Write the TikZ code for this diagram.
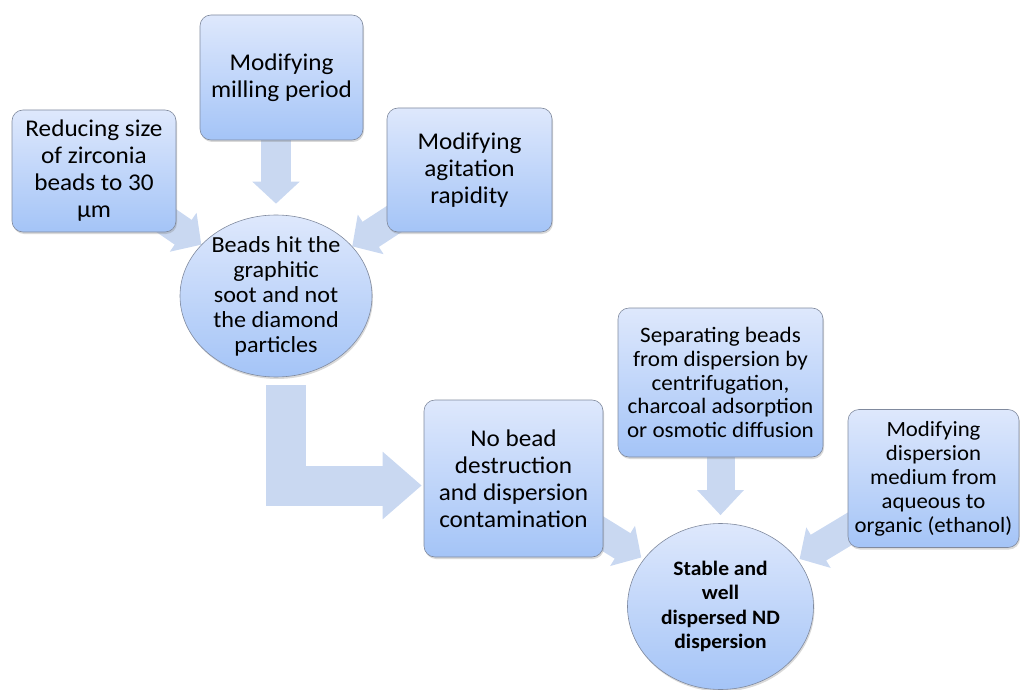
\documentclass[tikz,border=0pt]{standalone}
\usepackage{fontspec}
\setmainfont{Carlito}[FakeStretch=1.05]
\usepackage{tikz}
\usetikzlibrary{backgrounds}
\usetikzlibrary{shapes,shapes.geometric,arrows,arrows.meta}
\usetikzlibrary{shadows}
\usetikzlibrary{positioning}
\definecolor{boxtop}{RGB}{222,232,252}
\definecolor{boxbottom}{RGB}{164,196,247}
\definecolor{boxborder}{RGB}{128,138,158}
\definecolor{arrowfill}{RGB}{201,216,241}
\newcommand{\bigtxt}{\fontsize{24}{27}\selectfont}
\newcommand{\midtxt}{\fontsize{23}{25}\selectfont}
\newcommand{\smalltxt}{\fontsize{22}{23.7}\selectfont}
\tikzstyle{block} = [rectangle, draw=boxborder, line width=0.6pt,
    top color=boxtop, bottom color=boxbottom, rounded corners=11pt,
    align=center, inner sep=1pt, font=\bigtxt,
    drop shadow={shadow xshift=1pt,shadow yshift=-2pt,opacity=0.3}]
\tikzstyle{cloud} = [ellipse, draw=boxborder, line width=0.6pt,
    top color=boxtop, bottom color=boxbottom, align=center, inner sep=-12pt,
    drop shadow={shadow xshift=1pt,shadow yshift=-2pt,opacity=0.3}]
\tikzstyle{bigarrow} = [draw=arrowfill, line width=30pt, -{Triangle[width=46pt,length=22pt]}]

\begin{document}
\begin{tikzpicture}[x=1pt,y=-1pt]
\useasboundingbox (0,0) rectangle (1020,690);

% upper part
\node [block, minimum width=164pt, minimum height=122pt] (reduce) at (94,171) {Reducing size\\ of zirconia\\ beads to 30\\ µm};
\node [block, minimum width=163pt, minimum height=125pt] (milling) at (281.5,77.5) {Modifying\\ milling period};
\node [block, minimum width=165pt, minimum height=124pt] (agitate) at (469.5,170) {Modifying\\ agitation\\ rapidity};
\node [cloud, minimum width=192pt, minimum height=162pt, font=\midtxt] (beads) at (276,296) {Beads hit the\\ graphitic\\ soot and not\\ the diamond\\ particles};

% lower part
\node [block, minimum width=179pt, minimum height=157pt] (nobead) at (513.5,478.5) {No bead\\ destruction\\ and dispersion\\ contamination};
\node [block, minimum width=205pt, minimum height=149pt, font=\smalltxt] (separate) at (720.5,382.5) {Separating beads\\ from dispersion by\\ centrifugation,\\ charcoal adsorption\\ or osmotic diffusion};
\node [block, right of=nobead, node distance=420pt, minimum width=171pt, minimum height=138pt, font=\fontsize{21.7}{24}\selectfont] (medium) {Modifying\\ dispersion\\ medium from\\ aqueous to\\ organic (ethanol)};
\node [cloud, below of=separate, node distance=224pt, minimum width=186pt, minimum height=166pt, inner sep=0pt, font=\fontsize{20.5}{24.5}\selectfont\bfseries] (stable) {Stable and\\ well\\ dispersed ND\\ dispersion};

\begin{scope}[on background layer]
\draw[bigarrow] (reduce.center) -- (beads);
\draw[bigarrow] (agitate.center) -- (beads);
\draw[bigarrow, shorten >=11pt] (beads.north |- milling.south) -- (beads.north);
\draw[bigarrow, line width=40pt, -{Triangle[width=65pt,length=39pt]}, shorten >=2pt] ([xshift=10pt]beads.south) ++(0,8) |- ([yshift=-7pt]nobead.west);
\draw[bigarrow, line width=28pt, -{Triangle[width=45pt,length=25pt]}, shorten >=8pt] (separate.south) -- (stable.north);
\draw[bigarrow, shorten >=3pt] (nobead.center) -- (stable);
\draw[bigarrow, shorten >=2pt] (medium.center) -- (stable);
\end{scope}

\end{tikzpicture}
\end{document}
